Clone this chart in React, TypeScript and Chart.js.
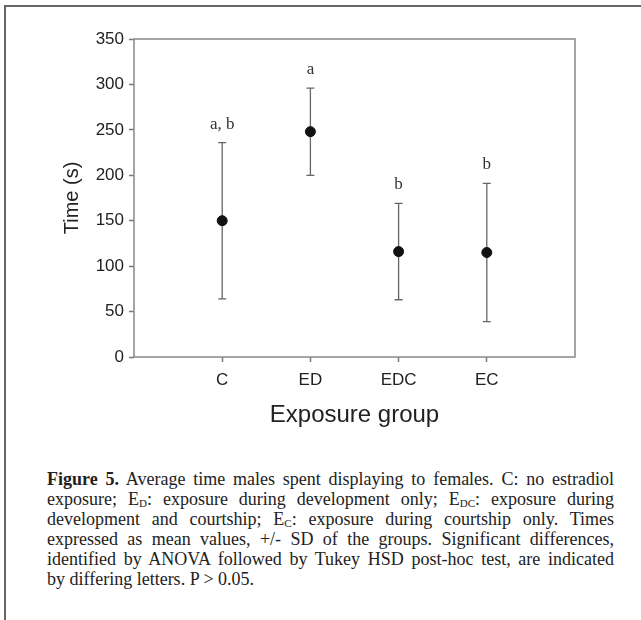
import React, { useEffect, useRef } from "react";
import { Chart, registerables } from "chart.js";

Chart.register(...registerables);

const groups = ["C", "ED", "EDC", "EC"];
const groupPositions = [1, 2, 3, 4];
const means = [150, 248, 116, 115];
const sds = [86, 48, 53, 76];
const letters = ["a, b", "a", "b", "b"];
const yMin = 0;
const yMax = 350;
const yStep = 50;
const xTitle = "Exposure group";
const yTitle = "Time (s)";

const errorBarPlugin = {
  id: "errorBars",
  beforeDatasetsDraw(chart: any) {
    const { ctx, scales } = chart;
    const xs = scales.x;
    const ys = scales.y;
    ctx.save();
    ctx.strokeStyle = "#666";
    ctx.lineWidth = 1.3;
    groupPositions.forEach((g, i) => {
      const x = xs.getPixelForValue(g);
      const yTop = ys.getPixelForValue(means[i] + sds[i]);
      const yBot = ys.getPixelForValue(means[i] - sds[i]);
      ctx.beginPath();
      ctx.moveTo(x, yTop);
      ctx.lineTo(x, yBot);
      ctx.moveTo(x - 4, yTop);
      ctx.lineTo(x + 4, yTop);
      ctx.moveTo(x - 4, yBot);
      ctx.lineTo(x + 4, yBot);
      ctx.stroke();
      ctx.fillStyle = "#333";
      ctx.font = "17px 'Liberation Serif', 'Times New Roman', serif";
      ctx.textAlign = "center";
      ctx.textBaseline = "alphabetic";
      ctx.fillText(letters[i], x, yTop - 14);
    });
    ctx.restore();
  },
  afterDraw(chart: any) {
    const { ctx, chartArea } = chart;
    ctx.save();
    ctx.strokeStyle = "#888";
    ctx.lineWidth = 1.5;
    ctx.strokeRect(chartArea.left, chartArea.top, chartArea.right - chartArea.left, chartArea.bottom - chartArea.top);
    ctx.restore();
  },
};

function ChartCanvas() {
  const ref = useRef<HTMLCanvasElement | null>(null);
  useEffect(() => {
    if (!ref.current) return;
    const chart = new Chart(ref.current, {
      type: "scatter",
      data: {
        datasets: [
          {
            data: groupPositions.map((g, i) => ({ x: g, y: means[i] })),
            backgroundColor: "#111",
            borderColor: "#111",
            pointRadius: 5,
            pointHoverRadius: 5,
          },
        ],
      },
      options: {
        animation: false,
        responsive: false,
        layout: { padding: { left: 0, right: 66, top: 39, bottom: 0 } },
        plugins: { legend: { display: false }, tooltip: { enabled: false } },
        scales: {
          x: {
            type: "linear",
            min: 0,
            max: 5,
            afterBuildTicks: (scale: any) => {
              scale.ticks = groupPositions.map((v) => ({ value: v }));
            },
            afterFit: (scale: any) => {
              scale.height = 83;
            },
            ticks: {
              autoSkip: false,
              maxRotation: 0,
              padding: 8,
              color: "#222",
              font: { family: "'Liberation Sans', Arial, sans-serif", size: 17 },
              callback: (v: any) => {
                const idx = groupPositions.indexOf(Number(v));
                return idx >= 0 ? groups[idx] : "";
              },
            },
            grid: { drawOnChartArea: false, drawTicks: true, tickLength: 5, tickColor: "#777", tickWidth: 1.5 },
            border: { display: false },
            title: {
              display: true,
              text: xTitle,
              color: "#222",
              font: { family: "'Liberation Sans', Arial, sans-serif", size: 24 },
              padding: { top: 0, bottom: 10 },
            },
          },
          y: {
            type: "linear",
            min: yMin,
            max: yMax,
            afterFit: (scale: any) => {
              scale.width = 134;
            },
            ticks: {
              stepSize: yStep,
              padding: 5,
              color: "#222",
              font: { family: "'Liberation Sans', Arial, sans-serif", size: 17 },
            },
            grid: { drawOnChartArea: false, drawTicks: true, tickLength: 5, tickColor: "#777", tickWidth: 1.5 },
            border: { display: false },
            title: {
              display: true,
              text: yTitle,
              color: "#222",
              font: { family: "'Liberation Sans', Arial, sans-serif", size: 20 },
              padding: { top: 60, bottom: 0 },
            },
          },
        },
      },
      plugins: [errorBarPlugin],
    });
    return () => chart.destroy();
  }, []);
  return <canvas ref={ref} width={641} height={440} style={{ position: "absolute", left: 0, top: 0, width: 641, height: 440 }} />;
}

const lineStyle: React.CSSProperties = {
  height: "20px",
  lineHeight: "20px",
  textAlign: "justify",
  textAlignLast: "justify" as any,
  whiteSpace: "nowrap",
};
const subStyle: React.CSSProperties = { fontSize: "11px", verticalAlign: "-2px", lineHeight: 0 };

export default function App() {
  return (
    <div style={{ position: "absolute", left: 0, top: 0, width: 641, height: 620, background: "#fff", overflow: "hidden" }}>
      <div style={{ position: "absolute", left: 4, top: 5, width: 640, height: 620, borderTop: "2px solid #666", borderLeft: "2px solid #666", boxSizing: "border-box" }} />
      <ChartCanvas />
      <div
        style={{
          position: "absolute",
          left: 47,
          top: 469,
          width: 567,
          fontFamily: "'Liberation Serif', 'Times New Roman', serif",
          fontSize: "18px",
          color: "#222",
        }}
      >
        <div style={lineStyle}>
          <b>Figure 5.</b> Average time males spent displaying to females. C: no estradiol
        </div>
        <div style={lineStyle}>
          exposure; E<sub style={subStyle}>D</sub>: exposure during development only; E<sub style={subStyle}>DC</sub>: exposure during
        </div>
        <div style={lineStyle}>
          development and courtship; E<sub style={subStyle}>C</sub>: exposure during courtship only. Times
        </div>
        <div style={lineStyle}>expressed as mean values, +/- SD of the groups. Significant differences,</div>
        <div style={lineStyle}>identified by ANOVA followed by Tukey HSD post-hoc test, are indicated</div>
        <div style={{ ...lineStyle, textAlign: "left", textAlignLast: "left" as any }}>by differing letters. P &gt; 0.05.</div>
      </div>
    </div>
  );
}
